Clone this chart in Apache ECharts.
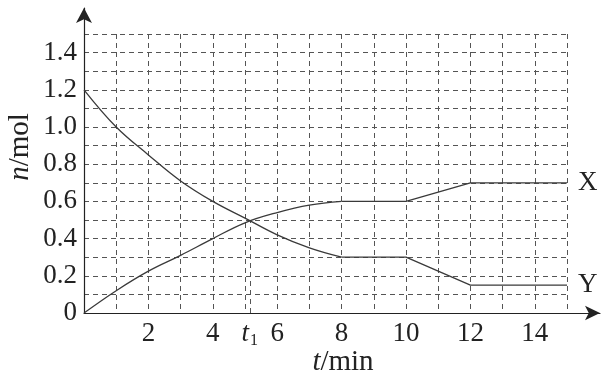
<!DOCTYPE html>
<html>
<head>
<meta charset="utf-8">
<script src="https://cdn.jsdelivr.net/npm/echarts@6/dist/echarts.min.js"></script>
<style>
html,body{margin:0;padding:0;background:#fff;}
#c{width:602px;height:378px;}
</style>
</head>
<body>
<div id="c"></div>
<script>
// ---- data ----
const tCurve = [0, 1, 2, 3, 4, 5, 6, 7, 8];
const xCurve = [0, 0.12, 0.225, 0.31, 0.4, 0.485, 0.54, 0.58, 0.6];
const yCurve = [1.2, 1.0, 0.85, 0.71, 0.6, 0.51, 0.42, 0.35, 0.3];
const tLine = [8, 10, 12, 15];
const xLine = [0.6, 0.6, 0.7, 0.7];
const yLine = [0.3, 0.3, 0.15, 0.15];
const t1 = 5.15;
const t1Value = 0.5;
const xTickLabels = {2: '2', 4: '4', 6: '6', 8: '8', 10: '10', 12: '12', 14: '14'};
const yTickLabels = {0: '0', 2: '0.2', 4: '0.4', 6: '0.6', 8: '0.8', 10: '1.0', 12: '1.2', 14: '1.4'};
const seriesNames = ['X', 'Y'];

const FONT = '"Liberation Serif", "Times New Roman", serif';
const FS = 27;
const TXT = '#222';
const LINE = '#3a3a3a';
const GRIDC = '#555';

function pairs(ts, vs) { return ts.map((t, i) => [t, vs[i]]); }

const chart = echarts.init(document.getElementById('c'), null, {renderer: 'canvas'});
const option = {
  backgroundColor: '#fff',
  animation: false,
  grid: [
    {left: 84, top: 34, width: 483, height: 279, containLabel: false},
    {left: 84, top: 8, right: 2, height: 305, containLabel: false}
  ],
  xAxis: [
    {
      type: 'value', gridIndex: 0, min: 0, max: 15, interval: 1,
      axisLine: {show: false},
      axisTick: {show: false},
      splitLine: {show: true, lineStyle: {color: GRIDC, type: [5, 4], width: 1}},
      axisLabel: {
        show: true, margin: 7, color: TXT, fontFamily: FONT, fontSize: FS,
        formatter: v => xTickLabels[Math.round(v)] || ''
      }
    },
    {
      type: 'value', gridIndex: 1, min: 0, max: 1,
      axisLine: {show: true, symbol: ['none', 'arrow'], symbolSize: [11, 15], lineStyle: {color: '#222', width: 1.2}},
      axisTick: {show: false}, axisLabel: {show: false}, splitLine: {show: false}
    }
  ],
  yAxis: [
    {
      type: 'value', gridIndex: 0, min: 0, max: 1.5, interval: 0.1,
      axisLine: {show: false},
      axisTick: {show: false},
      splitLine: {show: true, lineStyle: {color: GRIDC, type: [5, 4], width: 1}},
      axisLabel: {
        show: true, margin: 7, color: TXT, fontFamily: FONT, fontSize: FS,
        formatter: v => yTickLabels[Math.round(v * 10)] || ''
      }
    },
    {
      type: 'value', gridIndex: 1, min: 0, max: 1,
      axisLine: {show: true, symbol: ['none', 'arrow'], symbolSize: [12, 15], lineStyle: {color: '#222', width: 1.2}},
      axisTick: {show: false}, axisLabel: {show: false}, splitLine: {show: false}
    }
  ],
  series: [
    {
      name: seriesNames[0] + '-curve', type: 'line', xAxisIndex: 0, yAxisIndex: 0,
      data: pairs(tCurve, xCurve), smooth: 0.4, showSymbol: false, symbol: 'none',
      lineStyle: {color: LINE, width: 1.3}, z: 5,
      markLine: {
        silent: true, symbol: 'none',
        lineStyle: {color: GRIDC, type: [5, 4], width: 1},
        label: {
          show: true, position: 'start', distance: 5,
          formatter: '{i|t}{s|1}',
          rich: {
            i: {fontFamily: FONT, fontStyle: 'italic', fontSize: FS, color: TXT},
            s: {fontFamily: FONT, fontSize: 16, color: TXT, padding: [15, 0, 0, 1]}
          }
        },
        data: [[{coord: [t1, 0]}, {coord: [t1, t1Value]}]]
      }
    },
    {
      name: seriesNames[0], type: 'line', xAxisIndex: 0, yAxisIndex: 0,
      data: pairs(tLine, xLine), smooth: false, showSymbol: false, symbol: 'none',
      lineStyle: {color: LINE, width: 1.3}, z: 5,
      endLabel: {show: true, formatter: seriesNames[0], distance: 11, color: TXT, fontFamily: FONT, fontSize: FS}
    },
    {
      name: seriesNames[1] + '-curve', type: 'line', xAxisIndex: 0, yAxisIndex: 0,
      data: pairs(tCurve, yCurve), smooth: 0.4, showSymbol: false, symbol: 'none',
      lineStyle: {color: LINE, width: 1.3}, z: 5
    },
    {
      name: seriesNames[1], type: 'line', xAxisIndex: 0, yAxisIndex: 0,
      data: pairs(tLine, yLine), smooth: false, showSymbol: false, symbol: 'none',
      lineStyle: {color: LINE, width: 1.3}, z: 5,
      endLabel: {show: true, formatter: seriesNames[1], distance: 11, color: TXT, fontFamily: FONT, fontSize: FS}
    }
  ],
  graphic: [
    {
      type: 'text', x: 20, y: 147, rotation: Math.PI / 2,
      style: {
        text: '{i|n}/mol', textAlign: 'center', textVerticalAlign: 'middle',
        rich: {i: {fontFamily: FONT, fontStyle: 'italic', fontSize: 29, fill: TXT, color: TXT}},
        fontFamily: FONT, fontSize: 29, fill: TXT
      }
    },
    {
      type: 'text', x: 343, y: 362,
      style: {
        text: '{i|t}/min', textAlign: 'center', textVerticalAlign: 'middle',
        rich: {i: {fontFamily: FONT, fontStyle: 'italic', fontSize: 29, fill: TXT, color: TXT}},
        fontFamily: FONT, fontSize: 29, fill: TXT
      }
    }
  ]
};
chart.setOption(option);
</script>
</body>
</html>
